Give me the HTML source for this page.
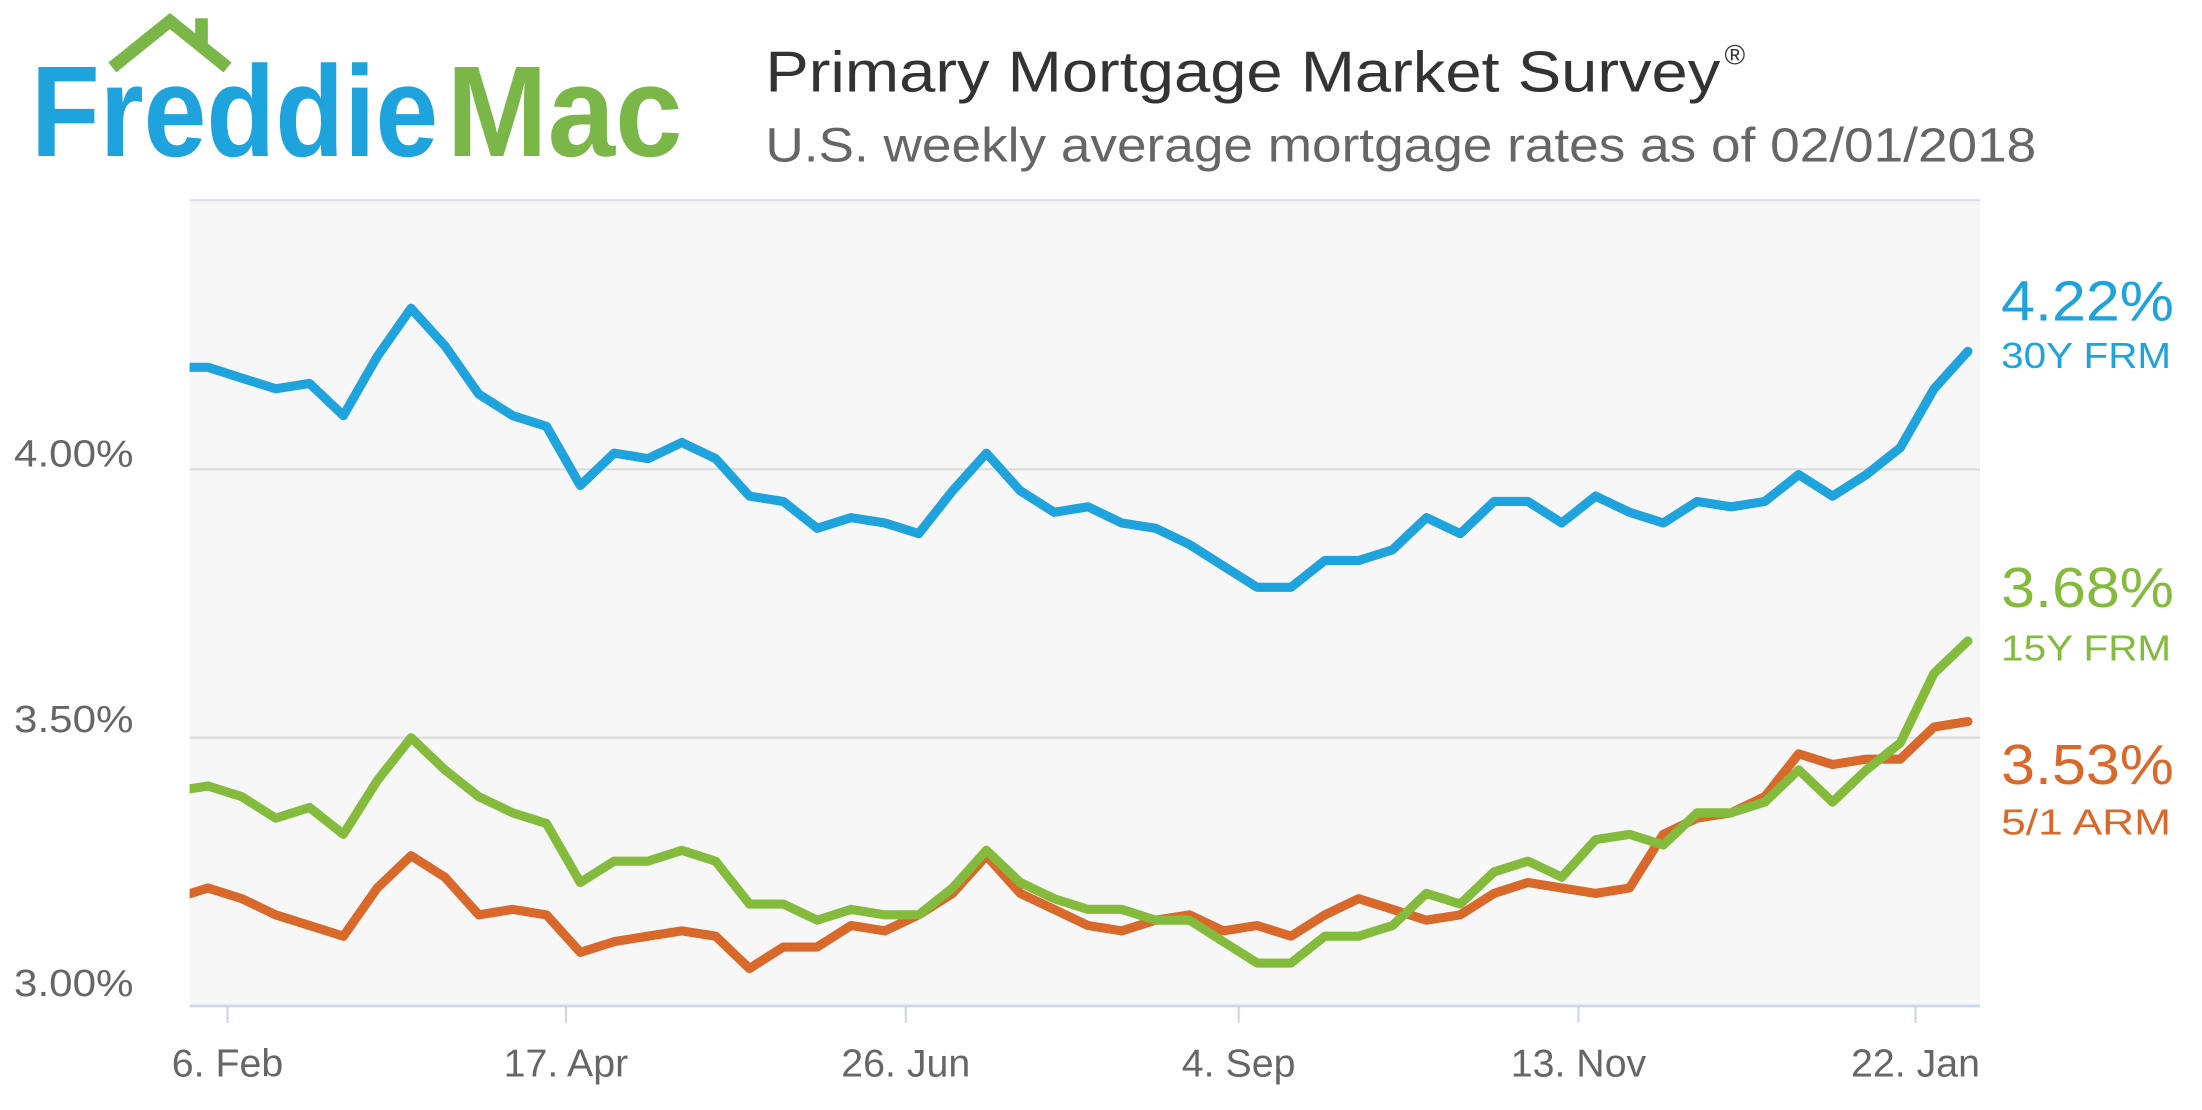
<!DOCTYPE html>
<html><head><meta charset="utf-8"><style>
html,body{margin:0;padding:0;background:#fff;}
svg{display:block;}
text{font-family:"Liberation Sans",sans-serif;}
</style></head><body>
<svg id="s" width="2202" height="1110" viewBox="0 0 1568 790" preserveAspectRatio="none" xmlns="http://www.w3.org/2000/svg">
<defs><clipPath id="c"><rect x="135" y="142" width="1275" height="574"/></clipPath></defs>
<polyline points="80,48 121,15 162,48" fill="none" stroke="#7ab648" stroke-width="9" stroke-linejoin="miter"/>
<rect x="139" y="13" width="9" height="22" fill="#7ab648"/>
<text x="22" y="111" font-size="92" font-weight="bold" fill="#1ea3dc" textLength="290" lengthAdjust="spacingAndGlyphs">Freddie</text>
<text x="318" y="111" font-size="92" font-weight="bold" fill="#7ab648" textLength="168" lengthAdjust="spacingAndGlyphs">Mac</text>
<text x="545" y="65" font-size="41" fill="#333" textLength="680" lengthAdjust="spacingAndGlyphs">Primary Mortgage Market Survey</text>
<text x="1228" y="46" font-size="20" fill="#333">®</text>
<text x="545" y="115" font-size="34" fill="#666" textLength="905" lengthAdjust="spacingAndGlyphs">U.S. weekly average mortgage rates as of 02/01/2018</text>
<rect x="135" y="142" width="1275" height="574" fill="#f7f7f7"/>
<line x1="135" y1="142.5" x2="1410" y2="142.5" stroke="#dde" stroke-width="1.5"/>
<line x1="135" y1="334" x2="1410" y2="334" stroke="#dcdcdc" stroke-width="1.5"/>
<line x1="135" y1="525" x2="1410" y2="525" stroke="#dcdcdc" stroke-width="1.5"/>
<line x1="135" y1="716" x2="1410" y2="716" stroke="#ccd6eb" stroke-width="2"/>
<g stroke="#ccd6eb" stroke-width="1.5">
<line x1="162" y1="716" x2="162" y2="728"/><line x1="403" y1="716" x2="403" y2="728"/><line x1="645" y1="716" x2="645" y2="728"/><line x1="882" y1="716" x2="882" y2="728"/><line x1="1124" y1="716" x2="1124" y2="728"/><line x1="1364" y1="716" x2="1364" y2="728"/>
</g>
<g font-size="27" fill="#666">
<text x="10" y="332" textLength="85" lengthAdjust="spacingAndGlyphs">4.00%</text>
<text x="10" y="521" textLength="85" lengthAdjust="spacingAndGlyphs">3.50%</text>
<text x="10" y="709" textLength="85" lengthAdjust="spacingAndGlyphs">3.00%</text>
</g>
<g font-size="28" fill="#666" text-anchor="middle">
<text x="162" y="766">6. Feb</text><text x="403" y="766">17. Apr</text><text x="645" y="766">26. Jun</text><text x="882" y="766">4. Sep</text><text x="1124" y="766">13. Nov</text><text x="1364" y="766">22. Jan</text>
</g>
<g clip-path="url(#c)" fill="none" stroke-width="6.5" stroke-linejoin="round" stroke-linecap="round">
<polyline id="p1" stroke="#1ea3dc"/>
<polyline id="p3" stroke="#d9692a"/>
<polyline id="p2" stroke="#84bb3c"/>
</g>
<text x="1425" y="228" font-size="40" fill="#1ea3dc" textLength="123" lengthAdjust="spacingAndGlyphs">4.22%</text>
<text x="1425" y="262" font-size="26" fill="#1ea3dc" textLength="121" lengthAdjust="spacingAndGlyphs">30Y FRM</text>
<text x="1425" y="432" font-size="40" fill="#84bb3c" textLength="123" lengthAdjust="spacingAndGlyphs">3.68%</text>
<text x="1425" y="470" font-size="26" fill="#84bb3c" textLength="121" lengthAdjust="spacingAndGlyphs">15Y FRM</text>
<text x="1425" y="558" font-size="40" fill="#d9692a" textLength="123" lengthAdjust="spacingAndGlyphs">3.53%</text>
<text x="1425" y="594" font-size="26" fill="#d9692a" textLength="121" lengthAdjust="spacingAndGlyphs">5/1 ARM</text>
</svg>
<script>
var a=[4.19,4.19,4.17,4.15,4.16,4.10,4.21,4.30,4.23,4.14,4.10,4.08,3.97,4.03,4.02,4.05,4.02,3.95,3.94,3.89,3.91,3.90,3.88,3.96,4.03,3.96,3.92,3.93,3.90,3.89,3.86,3.82,3.78,3.78,3.83,3.83,3.85,3.91,3.88,3.94,3.94,3.90,3.95,3.92,3.90,3.94,3.93,3.94,3.99,3.95,3.99,4.04,4.15,4.22];
var b=[3.40,3.41,3.39,3.35,3.37,3.32,3.42,3.50,3.44,3.39,3.36,3.34,3.23,3.27,3.27,3.29,3.27,3.19,3.19,3.16,3.18,3.17,3.17,3.22,3.29,3.23,3.20,3.18,3.18,3.16,3.16,3.12,3.08,3.08,3.13,3.13,3.15,3.21,3.19,3.25,3.27,3.24,3.31,3.32,3.30,3.36,3.36,3.38,3.44,3.38,3.44,3.49,3.62,3.68];
var c=[3.20,3.22,3.20,3.17,3.15,3.13,3.22,3.28,3.24,3.17,3.18,3.17,3.10,3.12,3.13,3.14,3.13,3.07,3.11,3.11,3.15,3.14,3.17,3.21,3.28,3.21,3.18,3.15,3.14,3.16,3.17,3.14,3.15,3.13,3.17,3.20,3.18,3.16,3.17,3.21,3.23,3.22,3.21,3.22,3.32,3.35,3.36,3.39,3.47,3.45,3.46,3.46,3.52,3.53];
function pts(d){return d.map(function(v,i){return (124+i*24.1).toFixed(1)+","+(716-(v-3)*382).toFixed(1);}).join(" ");}
document.getElementById("p1").setAttribute("points",pts(a));
document.getElementById("p2").setAttribute("points",pts(b));
document.getElementById("p3").setAttribute("points",pts(c));
</script>
</body></html>
